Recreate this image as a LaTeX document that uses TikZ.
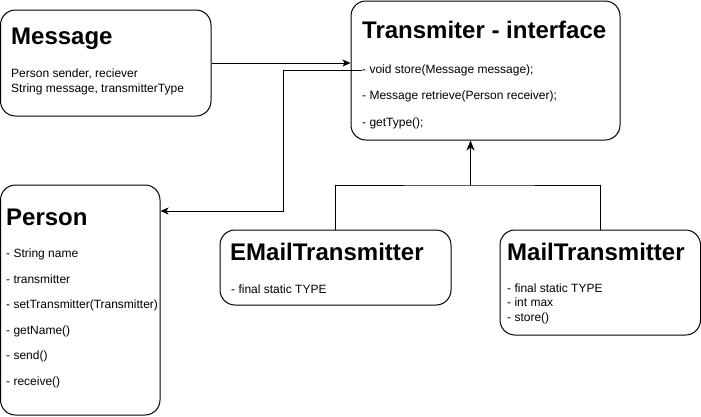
\documentclass[tikz,border=0pt]{standalone}
\usepackage{fontspec}
\setmainfont{Liberation Sans}
\usetikzlibrary{arrows.meta}
\tikzset{>={Stealth[length=8pt,width=7pt,inset=2pt]}}

\begin{document}
\begin{tikzpicture}[x=1pt, y=-1pt,
  box/.style={draw, line width=1pt, rounded corners=15pt, inner sep=0pt},
  title/.style={anchor=base west, inner sep=0pt, font=\fontsize{24}{29}\selectfont\bfseries},
  item/.style={anchor=base west, inner sep=0pt, font=\fontsize{12}{14}\selectfont},
  link/.style={draw, line width=1pt}]
\useasboundingbox (0,0) rectangle (701,416);
% class boxes
\node[box, minimum width=210.5pt, minimum height=106pt] (msg) at (105.75,63) {};
\node[box, minimum width=269pt, minimum height=139pt] (trans) at (485.5,70.5) {};
\node[box, minimum width=159.5pt, minimum height=230pt] (pers) at (80.25,300) {};
\node[box, minimum width=231pt, minimum height=75pt] (email) at (335.5,267.5) {};
\node[box, minimum width=200.5pt, minimum height=105pt] (mail) at (600.25,282.5) {};
% Message
\node[title] (msgT) at (11,44) {Message};
\node[item] (m1) at (11,77.5) {Person sender, reciever};
\node[item] (m2) at (11,92) {String message, transmitterType};
% Transmiter
\node[title] (transT) at (362,38.5) {Transmiter - interface};
\node[item] (t1) at (362,73.5) {- void store(Message message);};
\node[item] (t2) at (362,99.5) {- Message retrieve(Person receiver);};
\node[item] (t3) at (362,126) {- getType();};
% Person
\node[title] (persT) at (6,225) {Person};
\node[item] (p1) at (6,257) {- String name};
\node[item] (p2) at (6,283) {- transmitter};
\node[item] (p3) at (6,308.5) {- setTransmitter(Transmitter)};
\node[item] (p4) at (6,334) {- getName()};
\node[item] (p5) at (6,359.5) {- send()};
\node[item] (p6) at (6,385) {- receive()};
% EMailTransmitter
\node[title] (emailT) at (230,260) {EMailTransmitter};
\node[item] (e1) at (231,293.5) {- final static TYPE};
% MailTransmitter
\node[title] (mailT) at (507,260) {MailTransmitter};
\node[item] (ma1) at (507,292) {- final static TYPE};
\node[item] (ma2) at (507,306.5) {- int max};
\node[item] (ma3) at (507,321) {- store()};
% connectors
\coordinate (pjoint) at (283,211);
\coordinate (ijoint) at (470.5,185);
\draw[link,->] (msg.east) -- (msg.east -| trans.west);
\draw[link,->] (t1.west) -| (pjoint) -- (pjoint -| pers.east);
\draw[link] (email.north) |- (ijoint) -| (mail.north);
\draw[link,-{Stealth[length=10pt,width=8pt,inset=3pt]}] (ijoint) -- (ijoint |- trans.south);
\end{tikzpicture}
\end{document}
